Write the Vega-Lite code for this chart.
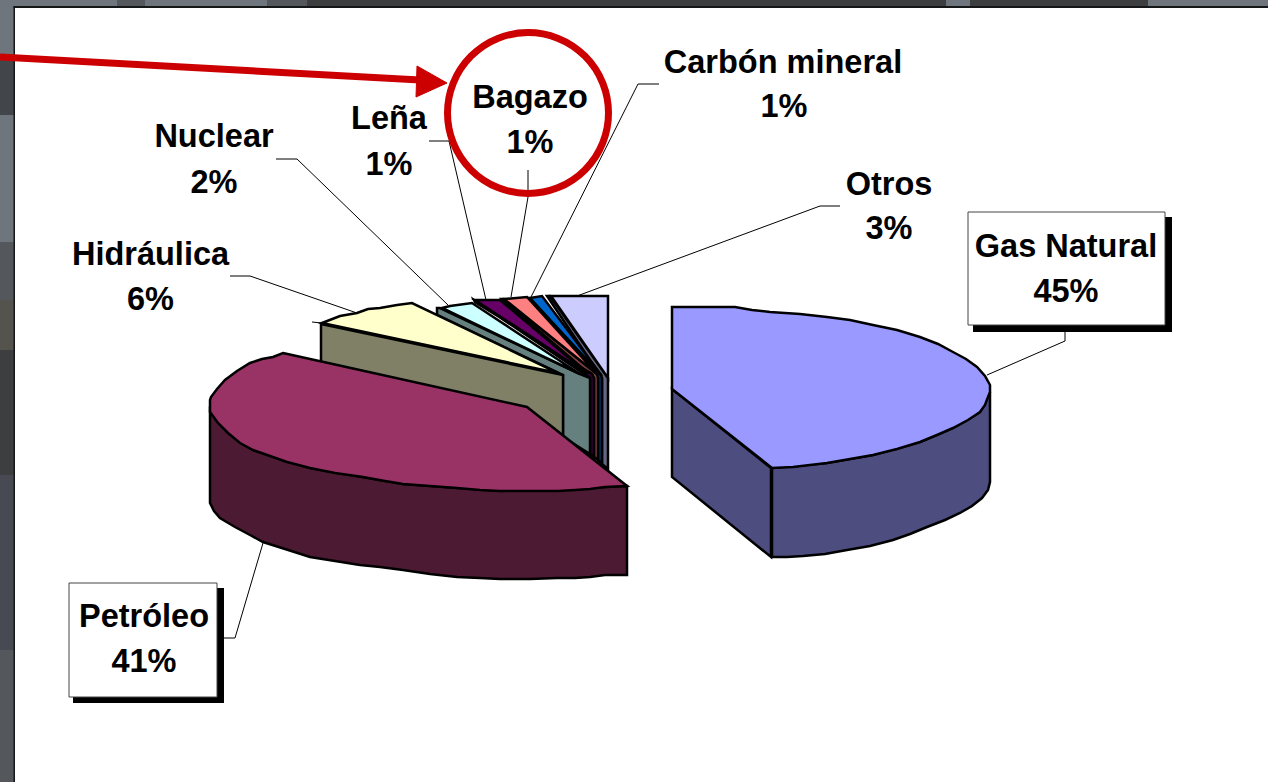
{"$schema":"https://vega.github.io/schema/vega-lite/v6.json","width":1268,"height":782,"padding":0,"autosize":"none","background":"#ffffff","view":{"stroke":null},
"encoding":{"x":{"field":"x","type":"quantitative","scale":{"domain":[0,1268],"nice":false,"zero":false},"axis":null},"y":{"field":"y","type":"quantitative","scale":{"domain":[782,0],"nice":false,"zero":false},"axis":null}},
"datasets":{
"panels":[
{"part":"gray","x":0,"x2":14,"y":0,"y2":60},{"part":"dark","x":0,"x2":14,"y":60,"y2":115},{"part":"gray","x":0,"x2":14,"y":115,"y2":242},{"part":"mid","x":0,"x2":14,"y":242,"y2":300},{"part":"brown","x":0,"x2":14,"y":300,"y2":350},{"part":"darker","x":0,"x2":14,"y":350,"y2":475},{"part":"slate","x":0,"x2":14,"y":475,"y2":650},{"part":"mid","x":0,"x2":14,"y":650,"y2":782},
{"part":"gray","x":0,"x2":117,"y":0,"y2":7},{"part":"mid","x":117,"x2":145,"y":0,"y2":7},{"part":"gray","x":145,"x2":267,"y":0,"y2":7},{"part":"mid","x":267,"x2":307,"y":0,"y2":7},{"part":"darker","x":307,"x2":946,"y":0,"y2":7},{"part":"gray","x":946,"x2":970,"y":0,"y2":7},{"part":"darker","x":970,"x2":1148,"y":0,"y2":7},{"part":"gray","x":1148,"x2":1268,"y":0,"y2":7},
{"part":"frame","x":13.5,"x2":1268,"y":6,"y2":8},{"part":"frame","x":13.5,"x2":15,"y":6,"y2":782}],
"leaders":[
{"line":"gas","i":1,"x":1065,"y":332},{"line":"gas","i":2,"x":1065,"y":341},{"line":"gas","i":3,"x":987,"y":375},
{"line":"pet","i":1,"x":224,"y":638},{"line":"pet","i":2,"x":235,"y":638},{"line":"pet","i":3,"x":263,"y":543},
{"line":"hid","i":1,"x":230,"y":276},{"line":"hid","i":2,"x":250,"y":276},{"line":"hid","i":3,"x":357,"y":313},
{"line":"nuc","i":1,"x":276,"y":159},{"line":"nuc","i":2,"x":297,"y":159},{"line":"nuc","i":3,"x":448,"y":305},
{"line":"len","i":1,"x":429,"y":141},{"line":"len","i":2,"x":449,"y":141},{"line":"len","i":3,"x":486,"y":300},
{"line":"bag","i":1,"x":528,"y":170},{"line":"bag","i":2,"x":528,"y":197},{"line":"bag","i":3,"x":511,"y":297},
{"line":"car","i":1,"x":659,"y":84},{"line":"car","i":2,"x":638,"y":84},{"line":"car","i":3,"x":531,"y":297},
{"line":"otr","i":1,"x":840,"y":206},{"line":"otr","i":2,"x":820,"y":206},{"line":"otr","i":3,"x":577,"y":296},
{"line":"spike","i":1,"x":312,"y":322},{"line":"spike","i":2,"x":322,"y":323}],
"faces":[
{"part":"a_otros_wall","i":1,"x":547,"y":296},{"part":"a_otros_wall","i":2,"x":550,"y":296},{"part":"a_otros_wall","i":3,"x":608,"y":378},{"part":"a_otros_wall","i":4,"x":608,"y":469},{"part":"a_otros_wall","i":5,"x":602,"y":464},{"part":"a_otros_wall","i":6,"x":602,"y":378},
{"part":"b_otros_top","i":1,"x":551,"y":296},{"part":"b_otros_top","i":2,"x":608,"y":296},{"part":"b_otros_top","i":3,"x":608,"y":378},
{"part":"c_carbon_wall","i":1,"x":527,"y":298},{"part":"c_carbon_wall","i":2,"x":529,"y":298},{"part":"c_carbon_wall","i":3,"x":600,"y":374},{"part":"c_carbon_wall","i":4,"x":602,"y":378},{"part":"c_carbon_wall","i":5,"x":602,"y":464},{"part":"c_carbon_wall","i":6,"x":598,"y":460},{"part":"c_carbon_wall","i":7,"x":598,"y":378},
{"part":"d_carbon_top","i":1,"x":530,"y":298},{"part":"d_carbon_top","i":2,"x":542,"y":296},{"part":"d_carbon_top","i":3,"x":602,"y":376},
{"part":"e_bagazo_wall","i":1,"x":502,"y":299},{"part":"e_bagazo_wall","i":2,"x":504,"y":299},{"part":"e_bagazo_wall","i":3,"x":597,"y":374},{"part":"e_bagazo_wall","i":4,"x":598,"y":378},{"part":"e_bagazo_wall","i":5,"x":598,"y":460},{"part":"e_bagazo_wall","i":6,"x":594,"y":457},{"part":"e_bagazo_wall","i":7,"x":594,"y":378},
{"part":"f_bagazo_top","i":1,"x":504,"y":299},{"part":"f_bagazo_top","i":2,"x":527,"y":297},{"part":"f_bagazo_top","i":3,"x":597,"y":374},
{"part":"g_lena_wall","i":1,"x":474,"y":300},{"part":"g_lena_wall","i":2,"x":475,"y":302},{"part":"g_lena_wall","i":3,"x":592,"y":374},{"part":"g_lena_wall","i":4,"x":594,"y":378},{"part":"g_lena_wall","i":5,"x":594,"y":457},{"part":"g_lena_wall","i":6,"x":590,"y":454},{"part":"g_lena_wall","i":7,"x":590,"y":378},
{"part":"h_lena_top","i":1,"x":475,"y":300},{"part":"h_lena_top","i":2,"x":500,"y":300},{"part":"h_lena_top","i":3,"x":588,"y":374},
{"part":"i_nuclear_wall","i":1,"x":437,"y":308},{"part":"i_nuclear_wall","i":2,"x":440,"y":308},{"part":"i_nuclear_wall","i":3,"x":580,"y":374},{"part":"i_nuclear_wall","i":4,"x":590,"y":378},{"part":"i_nuclear_wall","i":5,"x":590,"y":454},{"part":"i_nuclear_wall","i":6,"x":563,"y":437},{"part":"i_nuclear_wall","i":7,"x":563,"y":375},{"part":"i_nuclear_wall","i":8,"x":437,"y":315},
{"part":"j_nuclear_top","i":1,"x":442,"y":308},{"part":"j_nuclear_top","i":2,"x":450,"y":306},{"part":"j_nuclear_top","i":3,"x":472,"y":303},{"part":"j_nuclear_top","i":4,"x":580,"y":374},
{"part":"k_hidro_wall","i":1,"x":321,"y":324},{"part":"k_hidro_wall","i":2,"x":563,"y":375},{"part":"k_hidro_wall","i":3,"x":563,"y":437},{"part":"k_hidro_wall","i":4,"x":527,"y":408},{"part":"k_hidro_wall","i":5,"x":321,"y":362},
{"part":"l_hidro_top","i":1,"x":322,"y":323},{"part":"l_hidro_top","i":2,"x":340,"y":316},{"part":"l_hidro_top","i":3,"x":357,"y":313},{"part":"l_hidro_top","i":4,"x":368,"y":309},{"part":"l_hidro_top","i":5,"x":380,"y":308},{"part":"l_hidro_top","i":6,"x":397,"y":305},{"part":"l_hidro_top","i":7,"x":412,"y":303},{"part":"l_hidro_top","i":8,"x":558,"y":373},
{"part":"m_petro_wall","i":1,"x":210,"y":410},{"part":"m_petro_wall","i":2,"x":228,"y":433},{"part":"m_petro_wall","i":3,"x":253,"y":450},{"part":"m_petro_wall","i":4,"x":310,"y":468},{"part":"m_petro_wall","i":5,"x":403,"y":484},{"part":"m_petro_wall","i":6,"x":500,"y":491},{"part":"m_petro_wall","i":7,"x":605,"y":487},{"part":"m_petro_wall","i":8,"x":627,"y":486},{"part":"m_petro_wall","i":9,"x":627,"y":575},{"part":"m_petro_wall","i":10,"x":605,"y":575},{"part":"m_petro_wall","i":11,"x":590,"y":577},{"part":"m_petro_wall","i":12,"x":575,"y":578},{"part":"m_petro_wall","i":13,"x":557,"y":578},{"part":"m_petro_wall","i":14,"x":530,"y":579},{"part":"m_petro_wall","i":15,"x":500,"y":579},{"part":"m_petro_wall","i":16,"x":480,"y":578},{"part":"m_petro_wall","i":17,"x":457,"y":577},{"part":"m_petro_wall","i":18,"x":430,"y":574},{"part":"m_petro_wall","i":19,"x":403,"y":570},{"part":"m_petro_wall","i":20,"x":380,"y":567},{"part":"m_petro_wall","i":21,"x":360,"y":565},{"part":"m_petro_wall","i":22,"x":335,"y":561},{"part":"m_petro_wall","i":23,"x":310,"y":557},{"part":"m_petro_wall","i":24,"x":285,"y":549},{"part":"m_petro_wall","i":25,"x":263,"y":542},{"part":"m_petro_wall","i":26,"x":250,"y":535},{"part":"m_petro_wall","i":27,"x":235,"y":527},{"part":"m_petro_wall","i":28,"x":220,"y":518},{"part":"m_petro_wall","i":29,"x":214,"y":511},{"part":"m_petro_wall","i":30,"x":210,"y":503},
{"part":"n_petro_top","i":1,"x":283,"y":353},{"part":"n_petro_top","i":2,"x":527,"y":407},{"part":"n_petro_top","i":3,"x":627,"y":486},{"part":"n_petro_top","i":4,"x":605,"y":487},{"part":"n_petro_top","i":5,"x":590,"y":489},{"part":"n_petro_top","i":6,"x":575,"y":490},{"part":"n_petro_top","i":7,"x":558,"y":491},{"part":"n_petro_top","i":8,"x":530,"y":491},{"part":"n_petro_top","i":9,"x":500,"y":491},{"part":"n_petro_top","i":10,"x":480,"y":490},{"part":"n_petro_top","i":11,"x":457,"y":488},{"part":"n_petro_top","i":12,"x":430,"y":486},{"part":"n_petro_top","i":13,"x":403,"y":484},{"part":"n_petro_top","i":14,"x":385,"y":481},{"part":"n_petro_top","i":15,"x":363,"y":477},{"part":"n_petro_top","i":16,"x":335,"y":473},{"part":"n_petro_top","i":17,"x":310,"y":468},{"part":"n_petro_top","i":18,"x":287,"y":462},{"part":"n_petro_top","i":19,"x":270,"y":456},{"part":"n_petro_top","i":20,"x":253,"y":450},{"part":"n_petro_top","i":21,"x":240,"y":443},{"part":"n_petro_top","i":22,"x":228,"y":433},{"part":"n_petro_top","i":23,"x":218,"y":423},{"part":"n_petro_top","i":24,"x":210,"y":412},{"part":"n_petro_top","i":25,"x":210,"y":400},{"part":"n_petro_top","i":26,"x":211,"y":397},{"part":"n_petro_top","i":27,"x":217,"y":389},{"part":"n_petro_top","i":28,"x":225,"y":380},{"part":"n_petro_top","i":29,"x":237,"y":371},{"part":"n_petro_top","i":30,"x":250,"y":363},{"part":"n_petro_top","i":31,"x":262,"y":359},{"part":"n_petro_top","i":32,"x":273,"y":357},
{"part":"o_gas_front","i":1,"x":672,"y":389},{"part":"o_gas_front","i":2,"x":771,"y":468},{"part":"o_gas_front","i":3,"x":771,"y":557},{"part":"o_gas_front","i":4,"x":672,"y":477},
{"part":"p_gas_wall","i":1,"x":772,"y":468},{"part":"p_gas_wall","i":2,"x":827,"y":463},{"part":"p_gas_wall","i":3,"x":873,"y":455},{"part":"p_gas_wall","i":4,"x":920,"y":442},{"part":"p_gas_wall","i":5,"x":953,"y":428},{"part":"p_gas_wall","i":6,"x":980,"y":412},{"part":"p_gas_wall","i":7,"x":990,"y":392},{"part":"p_gas_wall","i":8,"x":990,"y":482},{"part":"p_gas_wall","i":9,"x":988,"y":490},{"part":"p_gas_wall","i":10,"x":982,"y":498},{"part":"p_gas_wall","i":11,"x":972,"y":506},{"part":"p_gas_wall","i":12,"x":960,"y":513},{"part":"p_gas_wall","i":13,"x":945,"y":520},{"part":"p_gas_wall","i":14,"x":927,"y":527},{"part":"p_gas_wall","i":15,"x":910,"y":534},{"part":"p_gas_wall","i":16,"x":893,"y":540},{"part":"p_gas_wall","i":17,"x":870,"y":546},{"part":"p_gas_wall","i":18,"x":847,"y":550},{"part":"p_gas_wall","i":19,"x":825,"y":554},{"part":"p_gas_wall","i":20,"x":803,"y":556},{"part":"p_gas_wall","i":21,"x":787,"y":557},{"part":"p_gas_wall","i":22,"x":772,"y":557},
{"part":"q_gas_top","i":1,"x":672,"y":307},{"part":"q_gas_top","i":2,"x":735,"y":307},{"part":"q_gas_top","i":3,"x":752,"y":310},{"part":"q_gas_top","i":4,"x":770,"y":312},{"part":"q_gas_top","i":5,"x":800,"y":314},{"part":"q_gas_top","i":6,"x":827,"y":317},{"part":"q_gas_top","i":7,"x":850,"y":320},{"part":"q_gas_top","i":8,"x":873,"y":325},{"part":"q_gas_top","i":9,"x":897,"y":330},{"part":"q_gas_top","i":10,"x":920,"y":337},{"part":"q_gas_top","i":11,"x":938,"y":344},{"part":"q_gas_top","i":12,"x":953,"y":352},{"part":"q_gas_top","i":13,"x":966,"y":359},{"part":"q_gas_top","i":14,"x":977,"y":367},{"part":"q_gas_top","i":15,"x":985,"y":376},{"part":"q_gas_top","i":16,"x":990,"y":385},{"part":"q_gas_top","i":17,"x":990,"y":392},{"part":"q_gas_top","i":18,"x":988,"y":397},{"part":"q_gas_top","i":19,"x":985,"y":405},{"part":"q_gas_top","i":20,"x":980,"y":412},{"part":"q_gas_top","i":21,"x":968,"y":420},{"part":"q_gas_top","i":22,"x":953,"y":428},{"part":"q_gas_top","i":23,"x":937,"y":435},{"part":"q_gas_top","i":24,"x":920,"y":442},{"part":"q_gas_top","i":25,"x":897,"y":449},{"part":"q_gas_top","i":26,"x":873,"y":455},{"part":"q_gas_top","i":27,"x":850,"y":459},{"part":"q_gas_top","i":28,"x":827,"y":463},{"part":"q_gas_top","i":29,"x":810,"y":465},{"part":"q_gas_top","i":30,"x":793,"y":467},{"part":"q_gas_top","i":31,"x":772,"y":468},{"part":"q_gas_top","i":32,"x":672,"y":389}],
"shadows":[{"x":973,"x2":1172,"y":217,"y2":332},{"x":73,"x2":224,"y":588,"y2":703}],
"boxes":[{"x":968,"x2":1165,"y":212,"y2":325},{"x":69,"x2":217,"y":583,"y2":697}],
"labels":[
{"text":"Gas Natural","x":1066,"y":257},{"text":"45%","x":1066,"y":302},
{"text":"Petróleo","x":144,"y":627},{"text":"41%","x":144,"y":672},
{"text":"Hidráulica","x":150.5,"y":265},{"text":"6%","x":150.5,"y":310},
{"text":"Nuclear","x":214,"y":147},{"text":"2%","x":214,"y":193},
{"text":"Leña","x":389,"y":129},{"text":"1%","x":389,"y":175},
{"text":"Bagazo","x":530,"y":108},{"text":"1%","x":530,"y":153},
{"text":"Carbón mineral","x":783,"y":73},{"text":"1%","x":784,"y":117},
{"text":"Otros","x":889,"y":195},{"text":"3%","x":889,"y":239}],
"shaft":[{"i":1,"x":0,"y":57},{"i":2,"x":420,"y":80}],
"head":[{"i":1,"x":417,"y":66},{"i":2,"x":447,"y":83},{"i":3,"x":416,"y":97}],
"ring":[{"x":528,"y":113}]
},
"layer":[
{"data":{"name":"panels"},"mark":{"type":"rect"},"encoding":{"x2":{"field":"x2"},"y2":{"field":"y2"},"fill":{"field":"part","type":"nominal","legend":null,"scale":{"domain":["gray","mid","dark","darker","slate","brown","frame"],"range":["#6f757c","#54585d","#42464a","#3c3e3f","#474a52","#55534d","#151719"]}}}},
{"data":{"name":"leaders"},"mark":{"type":"line","stroke":"#000000","strokeWidth":1},"encoding":{"detail":{"field":"line"},"order":{"field":"i","type":"quantitative"}}},
{"data":{"name":"faces"},"mark":{"type":"line","interpolate":"linear-closed","stroke":"#000000","strokeWidth":2.5,"strokeJoin":"miter"},"encoding":{"order":{"field":"i","type":"quantitative"},"fill":{"field":"part","type":"nominal","legend":null,"sort":null,"scale":{"domain":["a_otros_wall","b_otros_top","c_carbon_wall","d_carbon_top","e_bagazo_wall","f_bagazo_top","g_lena_wall","h_lena_top","i_nuclear_wall","j_nuclear_top","k_hidro_wall","l_hidro_top","m_petro_wall","n_petro_top","o_gas_front","p_gas_wall","q_gas_top"],"range":["#666680","#ccccff","#003366","#0066cc","#804040","#ff8080","#330033","#660066","#668080","#ccffff","#808066","#ffffcc","#4d1a33","#993366","#4d4d80","#4d4d80","#9999ff"]}}}},
{"data":{"name":"shadows"},"mark":{"type":"rect","fill":"#000000"},"encoding":{"x2":{"field":"x2"},"y2":{"field":"y2"}}},
{"data":{"name":"boxes"},"mark":{"type":"rect","fill":"#ffffff","stroke":"#444444","strokeWidth":1},"encoding":{"x2":{"field":"x2"},"y2":{"field":"y2"}}},
{"data":{"name":"labels"},"mark":{"type":"text","font":"Liberation Sans","fontWeight":"bold","fontSize":32.5,"align":"center","baseline":"alphabetic","fill":"#000000"},"encoding":{"text":{"field":"text"}}},
{"data":{"name":"shaft"},"mark":{"type":"line","stroke":"#cc0000","strokeWidth":7},"encoding":{"order":{"field":"i","type":"quantitative"}}},
{"data":{"name":"head"},"mark":{"type":"line","interpolate":"linear-closed","fill":"#cc0000","stroke":"#cc0000","strokeWidth":1},"encoding":{"order":{"field":"i","type":"quantitative"}}},
{"data":{"name":"ring"},"mark":{"type":"point","shape":"circle","filled":false,"size":25921,"stroke":"#cc0000","strokeWidth":7,"opacity":1}}
],
"resolve":{"scale":{"fill":"independent"}}
}
